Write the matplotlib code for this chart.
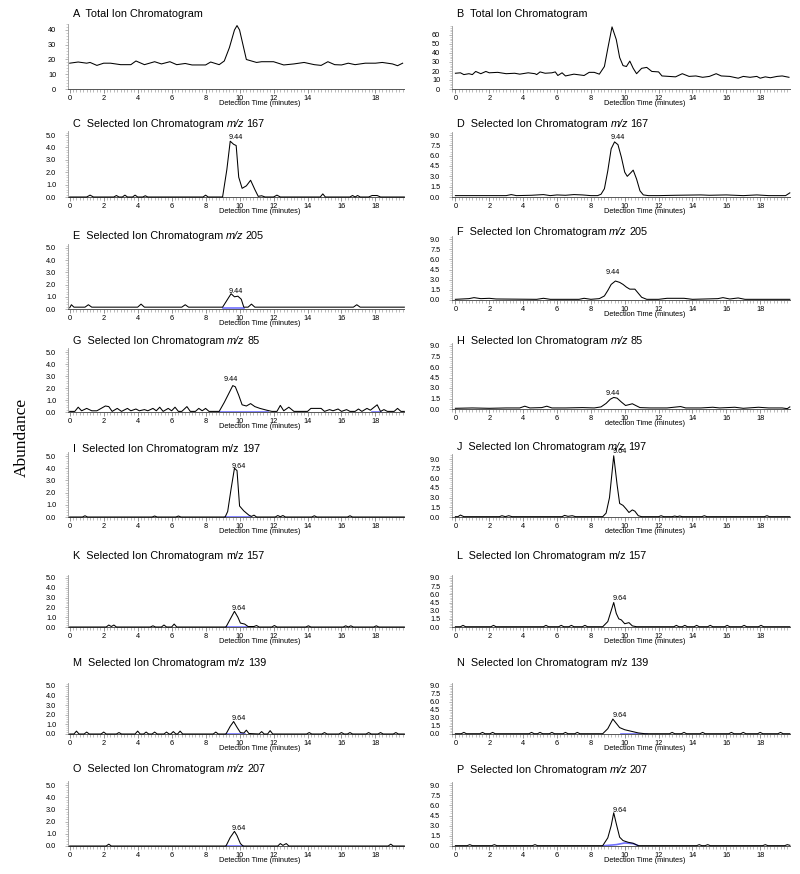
import matplotlib
matplotlib.use('Agg')
import matplotlib.pyplot as plt
from matplotlib.ticker import FixedLocator, MultipleLocator
from matplotlib.transforms import offset_copy

plt.rcParams['font.family'] = ['Liberation Sans', 'DejaVu Sans']

# ---------------- data (time [min], abundance) ----------------
A_pts = [(0, 17.5), (0.5, 18.3), (1.0, 17.5), (1.2, 18), (1.6, 16), (2.0, 17.5), (2.4, 17.5), (3.0, 16.5),
         (3.6, 16.5), (3.9, 19), (4.4, 16.5), (5.0, 18.5), (5.4, 17), (5.9, 18.5), (6.3, 16.5), (6.8, 17.3),
         (7.2, 16.3), (8.0, 16.3), (8.3, 18.3), (8.8, 16.5), (9.1, 19), (9.4, 28), (9.7, 40), (9.85, 43),
         (10.0, 40), (10.2, 30), (10.4, 20), (10.7, 19), (11.0, 18), (11.3, 18.5), (12.0, 18.5), (12.6, 16.3),
         (13.2, 17), (13.8, 18), (14.4, 16.5), (14.8, 16), (15.2, 18.5), (15.6, 16.5), (16.0, 16.3),
         (16.4, 17.5), (16.8, 16.5), (17.4, 17.5), (18.0, 17.5), (18.4, 18), (19.0, 17), (19.3, 15.8), (19.6, 17.5)]

B_pts = [(0, 17.5), (0.3, 18), (0.5, 16), (0.8, 17), (1.0, 16), (1.2, 19.5), (1.5, 17), (1.8, 19.5), (2.0, 18),
         (2.5, 18.5), (3.0, 17), (3.5, 17.5), (3.8, 16.5), (4.3, 18), (4.7, 17), (4.8, 16), (5.0, 19), (5.3, 17.5),
         (5.7, 18), (5.9, 19), (6.05, 15), (6.3, 18), (6.5, 14.5), (7.0, 16.5), (7.6, 15), (7.9, 18.5), (8.2, 18.5),
         (8.5, 16.5), (8.8, 25), (9.0, 45), (9.25, 69), (9.5, 55), (9.7, 35), (9.9, 26), (10.1, 25), (10.3, 31),
         (10.5, 23), (10.7, 17), (11.0, 23), (11.3, 24), (11.6, 19.5), (12.0, 19), (12.2, 14.5), (12.6, 14),
         (13.0, 13.5), (13.4, 17), (13.8, 14), (14.2, 14.5), (14.6, 13), (15.0, 14), (15.4, 17), (15.7, 14.5),
         (16.2, 14), (16.7, 12), (17.0, 14), (17.4, 13), (17.8, 14), (18.0, 12), (18.3, 13.5), (18.6, 12.5),
         (19.0, 14), (19.3, 14.5), (19.7, 13)]

C_pts = [(0, 0), (1.0, 0), (1.2, 0.15), (1.4, 0), (2.6, 0), (2.75, 0.12), (2.9, 0), (3.1, 0), (3.25, 0.15),
         (3.4, 0), (3.7, 0), (3.85, 0.15), (4.0, 0), (4.3, 0), (4.45, 0.1), (4.6, 0), (7.85, 0), (8.0, 0.15),
         (8.15, 0), (9.0, 0), (9.25, 2.2), (9.45, 4.5), (9.65, 4.25), (9.8, 4.15), (9.95, 1.6), (10.15, 0.7),
         (10.4, 0.9), (10.65, 1.35), (10.9, 0.6), (11.1, 0.05), (11.3, 0.1), (11.5, 0), (12.0, 0), (12.2, 0.15),
         (12.4, 0), (14.75, 0), (14.9, 0.25), (15.05, 0), (16.5, 0), (16.65, 0.12), (16.8, 0), (16.95, 0.12),
         (17.1, 0), (17.6, 0), (17.8, 0.12), (18.1, 0.12), (18.3, 0), (19.7, 0)]

D_pts = [(0, 0.2), (1.0, 0.2), (2.0, 0.2), (3.0, 0.2), (3.3, 0.35), (3.6, 0.2), (4.5, 0.25), (5.2, 0.35),
         (5.6, 0.2), (6.0, 0.3), (6.5, 0.25), (7.0, 0.35), (7.5, 0.3), (8.0, 0.2), (8.4, 0.2), (8.6, 0.4),
         (8.8, 1.2), (9.0, 3.8), (9.2, 7.0), (9.4, 8.0), (9.6, 7.6), (9.8, 5.8), (10.0, 3.6), (10.15, 3.0),
         (10.35, 3.5), (10.5, 3.9), (10.7, 2.6), (10.9, 0.9), (11.1, 0.3), (11.4, 0.2), (12.0, 0.2), (13.0, 0.25),
         (14.5, 0.3), (15.0, 0.25), (16.0, 0.3), (17.0, 0.2), (17.8, 0.3), (18.5, 0.2), (19.5, 0.2), (19.75, 0.6)]

E_pts = [(0, 0.1), (0.1, 0.35), (0.25, 0.15), (0.9, 0.15), (1.1, 0.35), (1.3, 0.15), (4.0, 0.15), (4.2, 0.4),
         (4.4, 0.15), (6.6, 0.15), (6.8, 0.35), (7.0, 0.15), (9.0, 0.15), (9.25, 0.7), (9.5, 1.25), (9.7, 1.0),
         (9.9, 1.05), (10.1, 0.8), (10.25, 0.15), (10.5, 0.15), (10.7, 0.4), (10.9, 0.15), (16.7, 0.15),
         (16.9, 0.35), (17.1, 0.15), (19.7, 0.15)]

F_pts = [(0, 0.1), (0.8, 0.2), (1.1, 0.35), (1.5, 0.2), (2.0, 0.25), (2.4, 0.15), (4.8, 0.1), (5.2, 0.25),
         (5.6, 0.1), (7.3, 0.1), (7.6, 0.25), (8.0, 0.1), (8.5, 0.2), (8.8, 0.6), (9.0, 1.4), (9.2, 2.3),
         (9.45, 2.8), (9.7, 2.6), (9.9, 2.3), (10.1, 1.9), (10.3, 1.6), (10.6, 1.6), (10.8, 1.0), (11.0, 0.4),
         (11.3, 0.1), (12.0, 0.1), (12.5, 0.25), (13.5, 0.25), (14.0, 0.1), (15.5, 0.2), (15.8, 0.35),
         (16.2, 0.15), (16.7, 0.3), (17.1, 0.1), (19.75, 0.1)]

G_pts = [(0, 0.05), (0.3, 0.05), (0.5, 0.4), (0.7, 0.1), (1.0, 0.3), (1.3, 0.1), (1.6, 0.1), (2.1, 0.5),
         (2.3, 0.45), (2.5, 0.05), (2.8, 0.3), (3.05, 0.05), (3.4, 0.3), (3.6, 0.1), (3.9, 0.25), (4.1, 0.1),
         (4.4, 0.2), (4.6, 0.1), (4.9, 0.3), (5.1, 0.1), (5.3, 0.4), (5.5, 0.05), (5.8, 0.3), (6.0, 0.1),
         (6.2, 0.4), (6.4, 0.05), (6.6, 0.05), (6.9, 0.45), (7.1, 0.05), (7.4, 0.05), (7.6, 0.3), (7.8, 0.1),
         (8.0, 0.3), (8.2, 0.05), (8.8, 0.05), (9.1, 0.8), (9.35, 1.5), (9.6, 2.2), (9.75, 2.1), (9.95, 1.4),
         (10.15, 0.6), (10.4, 0.5), (10.65, 0.7), (10.9, 0.45), (11.2, 0.3), (11.6, 0.15), (11.9, 0.05),
         (12.2, 0.05), (12.4, 0.55), (12.6, 0.1), (12.9, 0.4), (13.2, 0.05), (14.0, 0.05), (14.2, 0.3),
         (14.8, 0.3), (15.0, 0.05), (15.3, 0.2), (15.5, 0.1), (15.8, 0.25), (16.0, 0.05), (16.3, 0.2),
         (16.5, 0.05), (16.8, 0.05), (17.0, 0.25), (17.2, 0.05), (17.5, 0.3), (17.7, 0.15), (18.1, 0.6),
         (18.3, 0.05), (18.5, 0.2), (18.7, 0.05), (19.1, 0.05), (19.3, 0.3), (19.5, 0.05), (19.7, 0.05)]

H_pts = [(0, 0.1), (1, 0.15), (2, 0.1), (3, 0.15), (3.8, 0.15), (4.1, 0.4), (4.4, 0.15), (5.1, 0.2), (5.4, 0.4),
         (5.7, 0.15), (6.5, 0.15), (7.5, 0.2), (8.2, 0.15), (8.6, 0.3), (8.9, 0.8), (9.15, 1.4), (9.35, 1.65),
         (9.55, 1.55), (9.8, 1.0), (10.05, 0.5), (10.3, 0.65), (10.45, 0.75), (10.65, 0.5), (10.9, 0.2),
         (11.5, 0.15), (12.5, 0.15), (13.3, 0.35), (13.6, 0.15), (14.5, 0.15), (15.2, 0.25), (15.6, 0.15),
         (16.5, 0.25), (17.0, 0.1), (17.9, 0.25), (18.5, 0.15), (19.3, 0.15), (19.6, 0.05), (19.75, 0.3)]

I_pts = [(0, 0), (0.75, 0), (0.9, 0.1), (1.05, 0), (4.85, 0), (5.0, 0.08), (5.15, 0), (6.25, 0), (6.4, 0.08),
         (6.55, 0), (9.15, 0), (9.3, 0.45), (9.5, 2.3), (9.7, 4.0), (9.85, 3.8), (10.0, 0.9), (10.25, 0.5),
         (10.55, 0.15), (10.7, 0.05), (10.85, 0.15), (11.0, 0), (12.1, 0), (12.25, 0.12), (12.4, 0.02),
         (12.55, 0.12), (12.7, 0), (14.25, 0), (14.4, 0.1), (14.55, 0), (16.35, 0), (16.5, 0.1), (16.65, 0),
         (19.7, 0)]

J_pts = [(0, 0.05), (0.15, 0.05), (0.3, 0.3), (0.5, 0.05), (2.6, 0.05), (2.75, 0.2), (2.95, 0.05), (3.15, 0.2),
         (3.35, 0.05), (6.3, 0.05), (6.45, 0.25), (6.65, 0.1), (6.9, 0.2), (7.1, 0.05), (8.7, 0.05), (8.9, 0.6),
         (9.1, 3.0), (9.35, 9.5), (9.55, 5.0), (9.7, 2.1), (9.9, 1.8), (10.1, 1.2), (10.25, 0.7), (10.45, 1.1),
         (10.6, 0.9), (10.8, 0.2), (11.0, 0.05), (12.0, 0.05), (12.15, 0.2), (12.3, 0.05), (12.8, 0.05),
         (12.95, 0.15), (13.1, 0.05), (13.25, 0.15), (13.4, 0.05), (14.55, 0.05), (14.7, 0.2), (14.85, 0.05),
         (18.25, 0.05), (18.4, 0.2), (18.55, 0.05), (19.75, 0.05)]

K_pts = [(0, 0), (2.15, 0), (2.3, 0.2), (2.45, 0.05), (2.6, 0.2), (2.75, 0), (4.75, 0), (4.9, 0.12), (5.05, 0),
         (5.4, 0), (5.55, 0.2), (5.7, 0), (6.0, 0), (6.15, 0.3), (6.3, 0), (9.2, 0), (9.45, 0.8), (9.7, 1.6),
         (9.9, 1.0), (10.05, 0.4), (10.3, 0.3), (10.5, 0.05), (10.85, 0.05), (11.0, 0.15), (11.15, 0),
         (11.9, 0), (12.05, 0.15), (12.2, 0), (13.9, 0), (14.05, 0.12), (14.2, 0), (16.1, 0), (16.25, 0.12),
         (16.4, 0), (16.55, 0.12), (16.7, 0), (17.9, 0), (18.05, 0.12), (18.2, 0), (19.7, 0)]

L_pts = [(0, 0.05), (0.3, 0.05), (0.45, 0.3), (0.6, 0.05), (2.1, 0.05), (2.25, 0.3), (2.4, 0.05), (5.2, 0.05),
         (5.35, 0.3), (5.5, 0.05), (6.1, 0.05), (6.25, 0.3), (6.4, 0.05), (6.7, 0.05), (6.85, 0.3), (7.0, 0.05),
         (7.5, 0.05), (7.65, 0.3), (7.8, 0.05), (8.7, 0.05), (9.0, 1.0), (9.2, 3.0), (9.35, 4.5), (9.5, 2.5),
         (9.65, 1.5), (9.8, 1.3), (10.0, 0.6), (10.25, 0.8), (10.45, 0.2), (10.7, 0.05), (12.9, 0.05),
         (13.05, 0.3), (13.2, 0.05), (13.4, 0.05), (13.55, 0.3), (13.7, 0.05), (14.1, 0.05), (14.25, 0.3),
         (14.4, 0.05), (14.9, 0.05), (15.05, 0.3), (15.2, 0.05), (15.9, 0.05), (16.05, 0.3), (16.2, 0.05),
         (16.9, 0.05), (17.05, 0.3), (17.2, 0.05), (17.9, 0.05), (18.05, 0.3), (18.2, 0.05), (19.75, 0.05)]

M_pts = [(0, 0), (0.25, 0), (0.4, 0.3), (0.55, 0), (0.85, 0), (1.0, 0.2), (1.15, 0), (1.85, 0), (2.0, 0.2),
         (2.15, 0), (2.75, 0), (2.9, 0.15), (3.05, 0), (3.85, 0), (4.0, 0.3), (4.15, 0), (4.35, 0), (4.5, 0.2),
         (4.65, 0), (4.85, 0), (5.0, 0.2), (5.15, 0), (5.55, 0), (5.7, 0.2), (5.85, 0), (5.95, 0), (6.1, 0.25),
         (6.25, 0), (6.35, 0), (6.5, 0.3), (6.65, 0), (8.45, 0), (8.6, 0.2), (8.75, 0), (9.2, 0), (9.45, 0.8),
         (9.65, 1.3), (9.85, 0.7), (10.05, 0.15), (10.25, 0.1), (10.4, 0.4), (10.55, 0.05), (11.15, 0),
         (11.3, 0.25), (11.45, 0), (11.65, 0), (11.8, 0.35), (11.95, 0), (13.95, 0), (14.1, 0.15), (14.25, 0),
         (14.85, 0), (15.0, 0.15), (15.15, 0), (15.85, 0), (16.0, 0.15), (16.15, 0), (16.35, 0), (16.5, 0.15),
         (16.65, 0), (17.45, 0), (17.6, 0.15), (17.75, 0), (18.15, 0), (18.3, 0.15), (18.45, 0), (19.05, 0),
         (19.2, 0.15), (19.35, 0), (19.7, 0)]

N_pts = [(0, 0.05), (0.35, 0.05), (0.5, 0.3), (0.65, 0.05), (1.45, 0.05), (1.6, 0.3), (1.75, 0.05), (2.05, 0.05),
         (2.2, 0.3), (2.35, 0.05), (4.35, 0.05), (4.5, 0.3), (4.65, 0.05), (4.85, 0.05), (5.0, 0.3), (5.15, 0.05),
         (5.55, 0.05), (5.7, 0.3), (5.85, 0.05), (6.35, 0.05), (6.5, 0.3), (6.65, 0.05), (7.05, 0.05), (7.2, 0.3),
         (7.35, 0.05), (8.7, 0.05), (9.0, 1.0), (9.3, 2.8), (9.5, 2.0), (9.7, 1.2), (10.0, 0.8), (10.4, 0.5),
         (10.8, 0.2), (11.2, 0.05), (12.65, 0.05), (12.8, 0.3), (12.95, 0.05), (13.35, 0.05), (13.5, 0.3),
         (13.65, 0.05), (14.45, 0.05), (14.6, 0.3), (14.75, 0.05), (16.15, 0.05), (16.3, 0.3), (16.45, 0.05),
         (16.85, 0.05), (17.0, 0.3), (17.15, 0.05), (17.85, 0.05), (18.0, 0.3), (18.15, 0.05), (19.05, 0.05),
         (19.2, 0.3), (19.35, 0.05), (19.75, 0.05)]

O_pts = [(0, 0), (2.15, 0), (2.3, 0.15), (2.45, 0), (9.2, 0), (9.45, 0.7), (9.7, 1.2), (9.85, 0.85), (10.05, 0.2),
         (10.2, 0), (12.25, 0), (12.4, 0.2), (12.55, 0.05), (12.75, 0.2), (12.9, 0), (18.75, 0), (18.9, 0.15),
         (19.05, 0), (19.7, 0)]

P_pts = [(0, 0.05), (0.7, 0.05), (0.85, 0.2), (1.0, 0.05), (2.15, 0.05), (2.3, 0.2), (2.45, 0.05), (4.55, 0.05),
         (4.7, 0.2), (4.85, 0.05), (8.7, 0.05), (9.0, 1.2), (9.2, 3.0), (9.35, 4.9), (9.5, 3.3), (9.7, 1.3),
         (9.9, 0.8), (10.2, 0.55), (10.5, 0.4), (10.8, 0.05), (14.25, 0.05), (14.4, 0.2), (14.55, 0.05),
         (14.75, 0.05), (14.9, 0.2), (15.05, 0.05), (18.15, 0.05), (18.3, 0.2), (18.45, 0.05), (19.45, 0.05),
         (19.6, 0.2), (19.75, 0.1)]

# integration baselines (blue)
E_blue = [[(9.0, 0.12), (10.25, 0.12)]]
G_blue = [[(8.8, 0.03), (11.7, 0.03)], [(17.8, 0.03), (18.3, 0.03)]]
I_blue = [[(9.15, 0.02), (10.7, 0.02)]]
K_blue = [[(9.2, 0.02), (10.6, 0.02)]]
M_blue = [[(9.2, 0.02), (10.3, 0.02)]]
N_blue = [[(9.8, 0.05), (11.3, 0.05)]]
O_blue = [[(9.2, 0.02), (10.2, 0.02)]]
P_blue = [[(8.7, 0.02), (9.5, 0.2), (10.0, 0.45), (10.5, 0.35), (10.8, 0.05)]]

# peak labels (text, x, y)
peak_labels = {
    'C': ('9.44', 9.75, 4.8), 'D': ('9.44', 9.6, 8.7), 'E': ('9.44', 9.75, 1.4), 'F': ('9.44', 9.32, 4.1),
    'G': ('9.44', 9.5, 2.7), 'H': ('9.44', 9.32, 2.2), 'I': ('9.64', 9.95, 4.15), 'J': ('9.64', 9.7, 10.2),
    'K': ('9.64', 9.95, 1.9), 'L': ('9.64', 9.7, 5.3), 'M': ('9.64', 9.95, 1.6), 'N': ('9.64', 9.7, 3.4),
    'O': ('9.64', 9.95, 1.4), 'P': ('9.64', 9.7, 5.2),
}

# titles: (prefix, m/z value or None, italic m/z)
titles = {
    'A': ('A  Total Ion Chromatogram', None, False),
    'B': ('B  Total Ion Chromatogram', None, False),
    'C': ('C  Selected Ion Chromatogram', '167', True),
    'D': ('D  Selected Ion Chromatogram', '167', True),
    'E': ('E  Selected Ion Chromatogram', '205', True),
    'F': ('F  Selected Ion Chromatogram', '205', True),
    'G': ('G  Selected Ion Chromatogram', '85', True),
    'H': ('H  Selected Ion Chromatogram', '85', True),
    'I': ('I  Selected Ion Chromatogram', '197', False),
    'J': ('J  Selected Ion Chromatogram', '197', True),
    'K': ('K  Selected Ion Chromatogram', '157', False),
    'L': ('L  Selected Ion Chromatogram', '157', False),
    'M': ('M  Selected Ion Chromatogram', '139', False),
    'N': ('N  Selected Ion Chromatogram', '139', False),
    'O': ('O  Selected Ion Chromatogram', '207', True),
    'P': ('P  Selected Ion Chromatogram', '207', True),
}

x_ticks = [0, 2, 4, 6, 8, 10, 12, 14, 16, 18]
x_ticks_A = [0, 2, 4, 6, 8, 10, 12, 14, 18]
y_ticks_tic_A = [0, 10, 20, 30, 40]
y_ticks_tic_B = [0, 10, 20, 30, 40, 50, 60]
y_ticks_left = [0.0, 1.0, 2.0, 3.0, 4.0, 5.0]
y_ticks_right = [0.0, 1.5, 3.0, 4.5, 6.0, 7.5, 9.0]

# ---------------- layout (pixels) ----------------
W, H = 800, 874
fig = plt.figure(figsize=(W / 100, H / 100), dpi=100)
renderer = fig.canvas.get_renderer()

# key: (column, baseline px, top tick px, title y px)
layout = {
    'A': ('L', 89, 30, 14), 'B': ('R', 89, 35, 14),
    'C': ('L', 197, 135, 124), 'D': ('R', 197, 135, 124),
    'E': ('L', 309, 248, 236), 'F': ('R', 300, 239, 232),
    'G': ('L', 412, 352, 341), 'H': ('R', 409, 346, 341),
    'I': ('L', 517, 456, 449), 'J': ('R', 517, 459, 447),
    'K': ('L', 627, 578, 556), 'L': ('R', 627, 578, 556),
    'M': ('L', 734, 686, 663), 'N': ('R', 734, 686, 663),
    'O': ('L', 846, 785, 769), 'P': ('R', 846, 785, 770),
}
cols = {'L': (68, 404, -0.1, 19.68, 73), 'R': (452, 790, -0.2, 19.76, 457)}

series = {'A': A_pts, 'B': B_pts, 'C': C_pts, 'D': D_pts, 'E': E_pts, 'F': F_pts, 'G': G_pts, 'H': H_pts,
          'I': I_pts, 'J': J_pts, 'K': K_pts, 'L': L_pts, 'M': M_pts, 'N': N_pts, 'O': O_pts, 'P': P_pts}
blues = {'E': E_blue, 'G': G_blue, 'I': I_blue, 'K': K_blue, 'M': M_blue, 'N': N_blue, 'O': O_blue,
         'P': P_blue}

TICK_FS = 5.3
TITLE_FS = 7.8
GAP = 2.6  # px between title words


def draw_title(x_px, y_px, parts):
    prefix, val, ital = parts
    t = fig.text(x_px / W, 1 - y_px / H, prefix, ha='left', va='center', fontsize=TITLE_FS)
    if val is None:
        return
    bb = t.get_window_extent(renderer)
    t2 = fig.text((bb.x1 + GAP) / W, 1 - y_px / H, 'm/z', ha='left', va='center', fontsize=TITLE_FS,
                  style='italic' if ital else 'normal')
    bb2 = t2.get_window_extent(renderer)
    fig.text((bb2.x1 + GAP) / W, 1 - y_px / H, val, ha='left', va='center', fontsize=TITLE_FS)


for key, pts in series.items():
    col, base, ttop, title_y = layout[key]
    x0, x1, xmin, xmax, tx = cols[col]
    if key == 'A':
        yt = y_ticks_tic_A; ytop = 44
    elif key == 'B':
        yt = y_ticks_tic_B; ytop = 70
    elif col == 'L':
        yt = y_ticks_left; ytop = 5.3
    else:
        yt = y_ticks_right; ytop = 9.5 if key != 'J' else 9.7
    scale = (base - ttop) / yt[-1]
    top = base - ytop * scale
    ax = fig.add_axes([x0 / W, 1 - base / H, (x1 - x0) / W, (base - top) / H])
    ax.set_xlim(xmin, xmax)
    ax.set_ylim(0, ytop)

    t = [p[0] for p in pts]
    v = [p[1] for p in pts]
    ax.plot(t, v, color='black', lw=0.75, clip_on=False, zorder=3)
    for seg in blues.get(key, []):
        ax.plot([p[0] for p in seg], [p[1] for p in seg], color='#4040ff', lw=1.2, alpha=0.75,
                clip_on=False, zorder=2)

    for s in ('top', 'right'):
        ax.spines[s].set_visible(False)
    ax.spines['left'].set_color('#9a9a9a')
    ax.spines['left'].set_linewidth(0.6)
    ax.spines['bottom'].set_color('#555555')
    ax.spines['bottom'].set_linewidth(0.7)

    xt = x_ticks_A if key == 'A' else x_ticks
    ax.xaxis.set_major_locator(FixedLocator(xt))
    ax.set_xticklabels([str(x) for x in xt])
    ax.xaxis.set_minor_locator(MultipleLocator(0.2))
    ax.yaxis.set_major_locator(FixedLocator(yt))
    if key in ('A', 'B'):
        ax.set_yticklabels([str(y) for y in yt])
        ax.yaxis.set_minor_locator(MultipleLocator(2))
    elif col == 'L':
        ax.set_yticklabels(['%.1f' % y for y in yt])
        ax.yaxis.set_minor_locator(MultipleLocator(0.2))
    else:
        ax.set_yticklabels(['%.1f' % y for y in yt])
        ax.yaxis.set_minor_locator(MultipleLocator(0.3))
    ax.tick_params(axis='x', which='major', length=3, width=0.5, color='#666666', labelsize=TICK_FS, pad=1.5)
    ax.tick_params(axis='x', which='minor', length=1.8, width=0.4, color='#888888')
    ax.tick_params(axis='y', which='major', length=2.5, width=0.5, color='#999999', labelsize=TICK_FS, pad=6)
    ax.tick_params(axis='y', which='minor', length=1.5, width=0.4, color='#aaaaaa')

    xl = 'detection Time (minutes)' if key in ('H', 'J') else 'Detection Time (minutes)'
    tr = offset_copy(ax.get_xaxis_transform(), fig=fig, x=0, y=-14.5, units='dots')
    ax.text(11.2, 0, xl, transform=tr, ha='center', va='center', fontsize=5.3)

    if key in peak_labels:
        txt, px, py = peak_labels[key]
        ax.text(px, py, txt, ha='center', va='center', fontsize=5.2, clip_on=False, zorder=4)

    draw_title(tx, title_y, titles[key])

fig.text(22 / W, 1 - 437 / H, 'Abundance', rotation=90, ha='center', va='center', fontsize=12.5,
         family=['Liberation Serif', 'DejaVu Serif'])

fig.savefig('out.png', dpi=100, facecolor='white')
